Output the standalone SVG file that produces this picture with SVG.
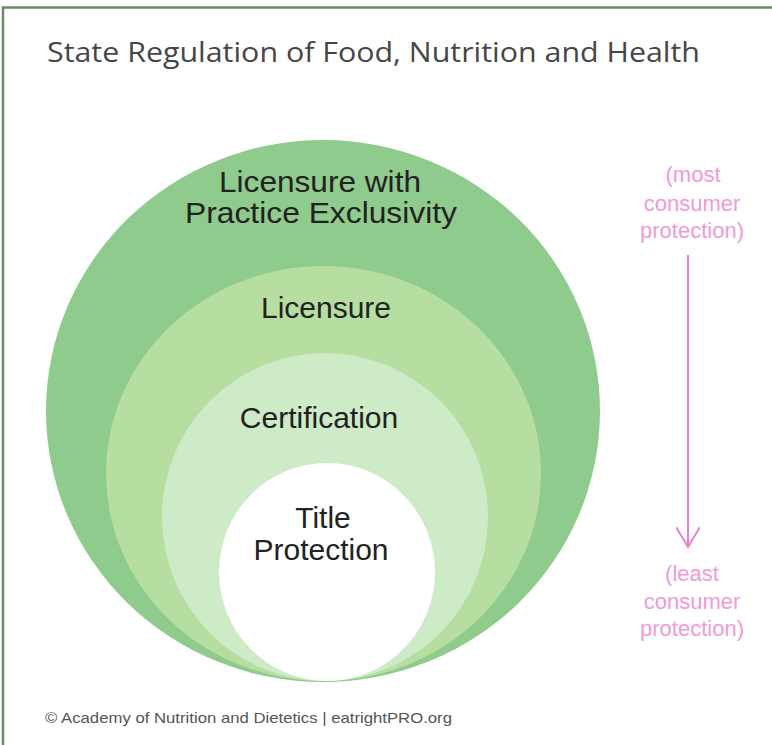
<svg xmlns="http://www.w3.org/2000/svg" width="772" height="745" viewBox="0 0 772 745">
  <style>
    .lbl { font-family: "Liberation Sans", Arial, sans-serif; font-size: 30px; fill: #222222; text-anchor: middle; }
    .pink { font-family: "Liberation Sans", Arial, sans-serif; font-size: 22px; fill: #f09ad8; text-anchor: middle; }
    .title { font-family: "Open Sans", "Liberation Sans", sans-serif; font-size: 28px; fill: #464646; }
    .foot { font-family: "Liberation Sans", Arial, sans-serif; font-size: 15px; fill: #555555; }
  </style>
  <defs>
    <marker id="vhead" markerWidth="24" markerHeight="24" refX="20" refY="12" orient="auto" markerUnits="userSpaceOnUse">
      <path d="M0,0 L20,12 L0,24" fill="none" stroke="#e884cc" stroke-width="2"/>
    </marker>
  </defs>
  <rect x="0" y="0" width="772" height="745" fill="#ffffff"/>
  <rect x="3" y="7.5" width="790" height="760" fill="none" stroke="#6a8c6a" stroke-width="2.5"/>
  <text class="title" x="47" y="62" textLength="653" lengthAdjust="spacingAndGlyphs">State Regulation of Food, Nutrition and Health</text>

  <g id="licensure-exclusivity">
    <ellipse cx="323" cy="411" rx="277" ry="271" fill="#8fcb8c"/>
    <text class="lbl" x="320" y="192" textLength="202" lengthAdjust="spacingAndGlyphs">Licensure with</text>
    <text class="lbl" x="321" y="223" textLength="272" lengthAdjust="spacingAndGlyphs">Practice Exclusivity</text>
  </g>
  <g id="licensure">
    <ellipse cx="323.5" cy="473.5" rx="217.5" ry="207.5" fill="#b6dea0"/>
    <text class="lbl" x="326" y="318">Licensure</text>
  </g>
  <g id="certification">
    <ellipse cx="325" cy="517" rx="163" ry="164" fill="#cdebc6"/>
    <text class="lbl" x="319" y="428">Certification</text>
  </g>
  <g id="title-protection">
    <ellipse cx="327" cy="572" rx="108" ry="109" fill="#ffffff"/>
    <text class="lbl" x="323" y="528">Title</text>
    <text class="lbl" x="321" y="560">Protection</text>
  </g>

  <g id="most">
    <text class="pink" x="693" y="182">(most</text>
    <text class="pink" x="692" y="211">consumer</text>
    <text class="pink" x="692" y="238">protection)</text>
  </g>
  <g id="least">
    <text class="pink" x="692" y="581">(least</text>
    <text class="pink" x="692" y="609">consumer</text>
    <text class="pink" x="692" y="636">protection)</text>
  </g>
  <g id="connectors">
    <line x1="688" y1="255" x2="688" y2="547" stroke="#e884cc" stroke-width="2" marker-end="url(#vhead)"/>
  </g>

  <text class="foot" x="45" y="723" textLength="407" lengthAdjust="spacingAndGlyphs">© Academy of Nutrition and Dietetics | eatrightPRO.org</text>
</svg>
